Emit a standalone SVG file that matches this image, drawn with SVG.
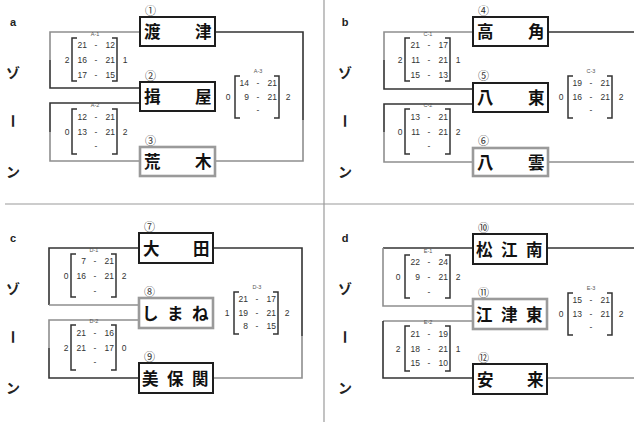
<svg xmlns="http://www.w3.org/2000/svg" width="634" height="422" viewBox="0 0 634 422">
<style>
.bg{fill:#fff}
.div{stroke:#9a9a9a;stroke-width:1.2;fill:none}
.box{fill:#fff;stroke:#1e1e1e;stroke-width:2}
.gbox{fill:#fff;stroke:#9a9a9a;stroke-width:2.6}
.name{font-family:"Noto Sans CJK JP","Noto Sans",sans-serif;font-weight:bold;font-size:16.5px;fill:#111}
.num{font-family:"Noto Sans CJK JP","DejaVu Sans",sans-serif;font-size:11px;fill:#333}
.zone{font-family:"Noto Sans CJK JP","Liberation Sans",sans-serif;font-weight:bold;font-size:14px;fill:#222;text-anchor:middle}
.letter{font-family:"Liberation Sans",sans-serif;font-weight:bold;font-size:11px;fill:#222;text-anchor:middle}
.dk{stroke:#333;stroke-width:1.6;fill:none}
.gr{stroke:#8e8e8e;stroke-width:1.6;fill:none}
.br{stroke:#333;stroke-width:1.5;fill:none}
.sc{font-family:"Liberation Sans",sans-serif;font-size:8.5px;fill:#333}
.r{text-anchor:end}
.m{text-anchor:middle}
.lb{font-family:"Liberation Sans",sans-serif;font-size:5.5px;fill:#555;text-anchor:middle}
</style>
<defs>
<path id="brk1" d="M77,38 H72 V81 H77 M112,38 H117 V81 H112"/>
<path id="brk2" d="M77,109 H72 V154 H77 M112,109 H117 V154 H112"/>
<path id="brk3" d="M240,76 H235 V118 H240 M274,76 H279 V118 H274"/>
</defs>
<rect class="bg" width="634" height="422"/>
<g id="dividers">
<line class="div" x1="5" y1="204" x2="634" y2="204"/>
<line class="div" x1="324" y1="0" x2="324" y2="422"/>
</g>

<!-- ===== zone a ===== -->
<g id="zone-a">
<g id="zone-a-label">
<text class="letter" x="13" y="26">a</text>
<text class="zone" x="13" y="78">ゾ</text>
<text class="zone" x="13" y="126" transform="rotate(90 13 121)">ー</text>
<text class="zone" x="13" y="177">ン</text>
</g>
<g id="connectors-a">
<path class="gr" d="M140,32 H50 V60"/><path class="dk" d="M50,60 V88 H140"/>
<path class="dk" d="M140,103 H50 V132"/><path class="gr" d="M50,132 V161 H140"/>
<path class="dk" d="M215,32 H303 V120"/><path class="gr" d="M303,120 V161 H215"/>
</g>
<g id="node-1"><text class="num" x="145" y="15">①</text><rect class="box" x="140" y="17" width="75" height="29"/><text class="name" x="144" y="38">渡<tspan x="195">津</tspan></text></g>
<g id="node-2"><text class="num" x="145" y="80">②</text><rect class="box" x="140" y="82" width="75" height="29"/><text class="name" x="144" y="103">揖<tspan x="195">屋</tspan></text></g>
<g id="node-3"><text class="num" x="145" y="145">③</text><rect class="gbox" x="140" y="147" width="75" height="29"/><text class="name" x="144" y="168">荒<tspan x="195">木</tspan></text></g>
<g id="score-A1"><use href="#brk1" class="br"/><text class="lb" x="95" y="36">A-1</text>
<text class="sc r" x="87" y="48">21</text><text class="sc m" x="96" y="48">-</text><text class="sc r" x="115" y="48">12</text>
<text class="sc r" x="87" y="63">16</text><text class="sc m" x="96" y="63">-</text><text class="sc r" x="115" y="63">21</text>
<text class="sc r" x="87" y="78">17</text><text class="sc m" x="96" y="78">-</text><text class="sc r" x="115" y="78">15</text>
<text class="sc m" x="67" y="63">2</text><text class="sc m" x="125" y="63">1</text></g>
<g id="score-A2"><use href="#brk2" class="br"/><text class="lb" x="95" y="107">A-2</text>
<text class="sc r" x="87" y="120">12</text><text class="sc m" x="96" y="120">-</text><text class="sc r" x="115" y="120">21</text>
<text class="sc r" x="87" y="135">13</text><text class="sc m" x="96" y="135">-</text><text class="sc r" x="115" y="135">21</text>
<text class="sc m" x="96" y="149">-</text>
<text class="sc m" x="67" y="135">0</text><text class="sc m" x="125" y="135">2</text></g>
<g id="score-A3"><use href="#brk3" class="br"/><text class="lb" x="258" y="73">A-3</text>
<text class="sc r" x="249" y="86">14</text><text class="sc m" x="258" y="86">-</text><text class="sc r" x="277" y="86">21</text>
<text class="sc r" x="249" y="100">9</text><text class="sc m" x="258" y="100">-</text><text class="sc r" x="277" y="100">21</text>
<text class="sc m" x="258" y="113">-</text>
<text class="sc m" x="228" y="100">0</text><text class="sc m" x="288" y="100">2</text></g>
</g>

<!-- ===== zone b ===== -->
<g id="zone-b" transform="translate(333,0)">
<g id="zone-b-label">
<text class="letter" x="12" y="26">b</text>
<text class="zone" x="12" y="78">ゾ</text>
<text class="zone" x="12" y="126" transform="rotate(90 12 121)">ー</text>
<text class="zone" x="12" y="177">ン</text>
</g>
<g id="connectors-b">
<path class="gr" d="M140,32 H51 V60"/><path class="dk" d="M51,60 V89 H140"/>
<path class="dk" d="M140,104 H51 V132"/><path class="gr" d="M51,132 V162 H140"/>
<path class="dk" d="M215,32 H303 V120"/><path class="gr" d="M303,120 V162 H215"/>
</g>
<g id="node-4"><text class="num" x="145" y="15">④</text><rect class="box" x="140" y="17" width="75" height="29"/><text class="name" x="144" y="38">高<tspan x="195">角</tspan></text></g>
<g id="node-5"><text class="num" x="145" y="80">⑤</text><rect class="box" x="140" y="83" width="75" height="29"/><text class="name" x="144" y="104">八<tspan x="195">東</tspan></text></g>
<g id="node-6"><text class="num" x="145" y="145">⑥</text><rect class="gbox" x="140" y="148" width="75" height="28"/><text class="name" x="144" y="169">八<tspan x="195">雲</tspan></text></g>
<g id="score-C1"><use href="#brk1" class="br"/><text class="lb" x="95" y="36">C-1</text>
<text class="sc r" x="87" y="48">21</text><text class="sc m" x="96" y="48">-</text><text class="sc r" x="115" y="48">17</text>
<text class="sc r" x="87" y="63">11</text><text class="sc m" x="96" y="63">-</text><text class="sc r" x="115" y="63">21</text>
<text class="sc r" x="87" y="78">15</text><text class="sc m" x="96" y="78">-</text><text class="sc r" x="115" y="78">13</text>
<text class="sc m" x="67" y="63">2</text><text class="sc m" x="125" y="63">1</text></g>
<g id="score-C2"><use href="#brk2" class="br"/><text class="lb" x="95" y="107">C-2</text>
<text class="sc r" x="87" y="120">13</text><text class="sc m" x="96" y="120">-</text><text class="sc r" x="115" y="120">21</text>
<text class="sc r" x="87" y="135">11</text><text class="sc m" x="96" y="135">-</text><text class="sc r" x="115" y="135">21</text>
<text class="sc m" x="96" y="149">-</text>
<text class="sc m" x="67" y="135">0</text><text class="sc m" x="125" y="135">2</text></g>
<g id="score-C3"><use href="#brk3" class="br"/><text class="lb" x="258" y="73">C-3</text>
<text class="sc r" x="249" y="86">19</text><text class="sc m" x="258" y="86">-</text><text class="sc r" x="277" y="86">21</text>
<text class="sc r" x="249" y="100">16</text><text class="sc m" x="258" y="100">-</text><text class="sc r" x="277" y="100">21</text>
<text class="sc m" x="258" y="113">-</text>
<text class="sc m" x="228" y="100">0</text><text class="sc m" x="288" y="100">2</text></g>
</g>

<!-- ===== zone c ===== -->
<g id="zone-c" transform="translate(-1,216)">
<g id="zone-c-label">
<text class="letter" x="14" y="26">c</text>
<text class="zone" x="14" y="78">ゾ</text>
<text class="zone" x="14" y="126" transform="rotate(90 14 121)">ー</text>
<text class="zone" x="14" y="177">ン</text>
</g>
<g id="connectors-c">
<path class="dk" d="M140,32 H50 V89"/><path class="gr" d="M50,89 H140"/>
<path class="gr" d="M140,104 H50 V132"/><path class="dk" d="M50,132 V162 H140"/>
<path class="dk" d="M215,32 H303 V120"/><path class="gr" d="M303,120 V162 H215"/>
</g>
<g id="node-7"><text class="num" x="145" y="15">⑦</text><rect class="box" x="140" y="17" width="74" height="30"/><text class="name" x="144" y="39">大<tspan x="194">田</tspan></text></g>
<g id="node-8"><text class="num" x="145" y="80">⑧</text><rect class="gbox" x="140" y="82" width="74" height="30"/><text class="name" x="143" y="104">し<tspan x="168">ま</tspan><tspan x="193">ね</tspan></text></g>
<g id="node-9"><text class="num" x="145" y="145">⑨</text><rect class="box" x="140" y="147" width="74" height="30"/><text class="name" x="143" y="169">美<tspan x="168">保</tspan><tspan x="193">関</tspan></text></g>
<g id="score-D1"><use href="#brk1" class="br"/><text class="lb" x="95" y="36">D-1</text>
<text class="sc r" x="87" y="48">7</text><text class="sc m" x="96" y="48">-</text><text class="sc r" x="115" y="48">21</text>
<text class="sc r" x="87" y="63">16</text><text class="sc m" x="96" y="63">-</text><text class="sc r" x="115" y="63">21</text>
<text class="sc m" x="96" y="78">-</text>
<text class="sc m" x="67" y="63">0</text><text class="sc m" x="125" y="63">2</text></g>
<g id="score-D2"><use href="#brk2" class="br"/><text class="lb" x="95" y="107">D-2</text>
<text class="sc r" x="87" y="120">21</text><text class="sc m" x="96" y="120">-</text><text class="sc r" x="115" y="120">16</text>
<text class="sc r" x="87" y="135">21</text><text class="sc m" x="96" y="135">-</text><text class="sc r" x="115" y="135">17</text>
<text class="sc m" x="96" y="149">-</text>
<text class="sc m" x="67" y="135">2</text><text class="sc m" x="125" y="135">0</text></g>
<g id="score-D3"><use href="#brk3" class="br"/><text class="lb" x="258" y="73">D-3</text>
<text class="sc r" x="249" y="86">21</text><text class="sc m" x="258" y="86">-</text><text class="sc r" x="277" y="86">17</text>
<text class="sc r" x="249" y="100">19</text><text class="sc m" x="258" y="100">-</text><text class="sc r" x="277" y="100">21</text>
<text class="sc r" x="249" y="113">8</text><text class="sc m" x="258" y="113">-</text><text class="sc r" x="277" y="113">15</text>
<text class="sc m" x="228" y="100">1</text><text class="sc m" x="288" y="100">2</text></g>
</g>

<!-- ===== zone d ===== -->
<g id="zone-d" transform="translate(333,217)">
<g id="zone-d-label">
<text class="letter" x="12" y="25">d</text>
<text class="zone" x="12" y="77">ゾ</text>
<text class="zone" x="12" y="125" transform="rotate(90 12 120)">ー</text>
<text class="zone" x="12" y="176">ン</text>
</g>
<g id="connectors-d">
<path class="dk" d="M140,31 H50"/><path class="gr" d="M50,31 V89 H140"/>
<path class="gr" d="M140,104 H50"/><path class="dk" d="M50,104 V161 H140"/>
<path class="dk" d="M214,31 H303 V120"/><path class="gr" d="M303,120 V161 H214"/>
</g>
<g id="node-10"><text class="num" x="145" y="15">⑩</text><rect class="box" x="140" y="17" width="74" height="30"/><text class="name" x="143" y="39">松<tspan x="168">江</tspan><tspan x="193">南</tspan></text></g>
<g id="node-11"><text class="num" x="145" y="80">⑪</text><rect class="gbox" x="140" y="82" width="74" height="30"/><text class="name" x="143" y="104">江<tspan x="168">津</tspan><tspan x="193">東</tspan></text></g>
<g id="node-12"><text class="num" x="145" y="145">⑫</text><rect class="box" x="140" y="147" width="74" height="30"/><text class="name" x="144" y="169">安<tspan x="194">来</tspan></text></g>
<g id="score-E1"><use href="#brk1" class="br"/><text class="lb" x="95" y="36">E-1</text>
<text class="sc r" x="87" y="48">22</text><text class="sc m" x="96" y="48">-</text><text class="sc r" x="115" y="48">24</text>
<text class="sc r" x="87" y="63">9</text><text class="sc m" x="96" y="63">-</text><text class="sc r" x="115" y="63">21</text>
<text class="sc m" x="96" y="78">-</text>
<text class="sc m" x="65" y="63">0</text><text class="sc m" x="125" y="63">2</text></g>
<g id="score-E2"><use href="#brk2" class="br"/><text class="lb" x="95" y="107">E-2</text>
<text class="sc r" x="87" y="120">21</text><text class="sc m" x="96" y="120">-</text><text class="sc r" x="115" y="120">19</text>
<text class="sc r" x="87" y="135">18</text><text class="sc m" x="96" y="135">-</text><text class="sc r" x="115" y="135">21</text>
<text class="sc r" x="87" y="149">15</text><text class="sc m" x="96" y="149">-</text><text class="sc r" x="115" y="149">10</text>
<text class="sc m" x="65" y="135">2</text><text class="sc m" x="125" y="135">1</text></g>
<g id="score-E3"><use href="#brk3" class="br"/><text class="lb" x="258" y="73">E-3</text>
<text class="sc r" x="249" y="86">15</text><text class="sc m" x="258" y="86">-</text><text class="sc r" x="277" y="86">21</text>
<text class="sc r" x="249" y="100">13</text><text class="sc m" x="258" y="100">-</text><text class="sc r" x="277" y="100">21</text>
<text class="sc m" x="258" y="113">-</text>
<text class="sc m" x="228" y="100">0</text><text class="sc m" x="288" y="100">2</text></g>
</g>
</svg>
